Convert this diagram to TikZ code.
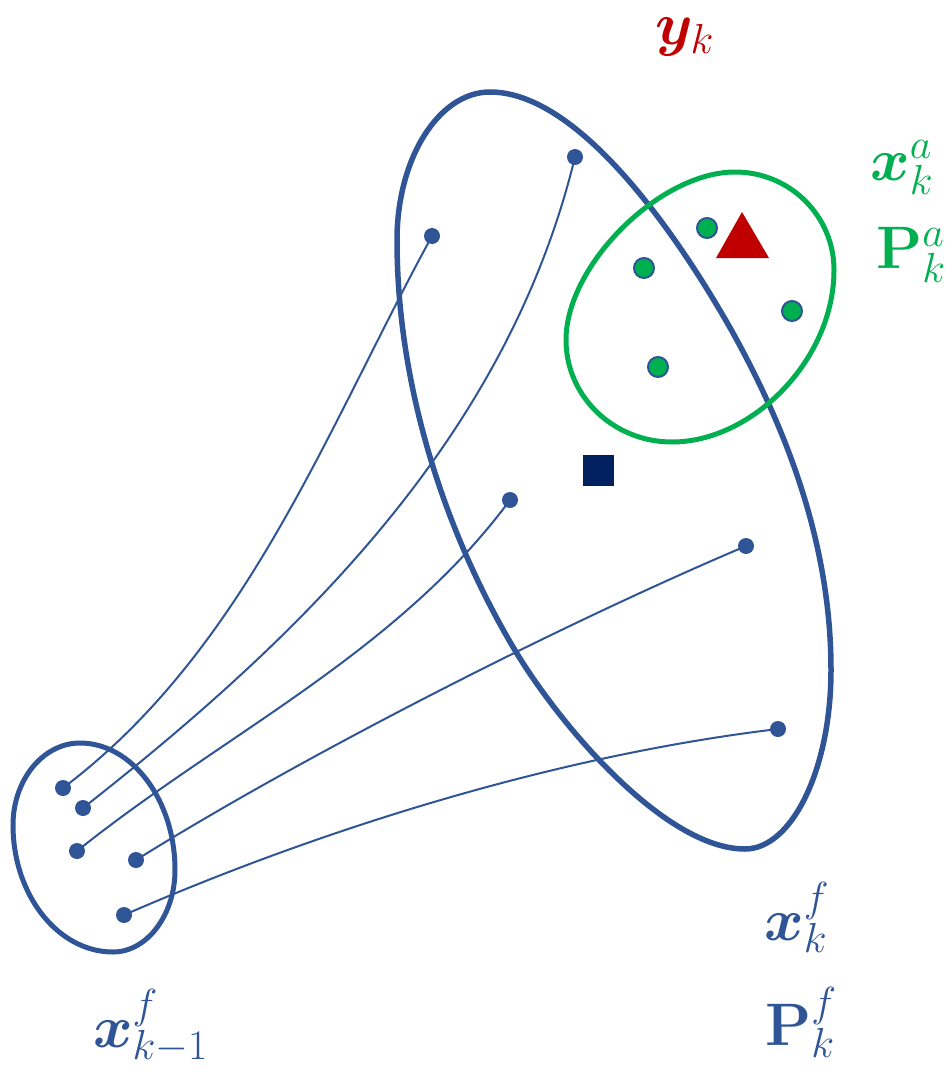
\RequirePackage{fix-cm}
\documentclass[tikz,border=0pt]{standalone}
\usepackage{amsmath}
\usepackage{bm}
\definecolor{dblue}{HTML}{2F5597}
\definecolor{dgreen}{HTML}{00B050}
\definecolor{dred}{HTML}{C00000}
\definecolor{navy}{HTML}{002060}
\tikzset{
  bigshape/.style={draw=dblue, line width=5.5pt},
  greenshape/.style={draw=dgreen, line width=5pt},
  smallshape/.style={draw=dblue, line width=5pt},
  conn/.style={draw=dblue, line width=2pt},
  bdot/.style={circle, fill=dblue, inner sep=0pt, minimum size=16pt},
  gdot/.style={circle, fill=dgreen, draw=dblue, line width=2pt, inner sep=0pt, minimum size=20pt},
  lab/.style={inner sep=0pt, anchor=base west, font=\fontsize{60}{66}\selectfont}
}
\begin{document}
\begin{tikzpicture}[x=1pt,y=-1pt]
\useasboundingbox (0,0) rectangle (951,1073);

% large forecast ellipse
\path[bigshape] (490,92)
  .. controls (580,92) and (679,237) .. (733,333)
  .. controls (791,438) and (831,550) .. (831,670)
  .. controls (831,769) and (792,849) .. (745,849)
  .. controls (665,849) and (559,725) .. (513,647)
  .. controls (447,535) and (397,390) .. (397,240)
  .. controls (397,158) and (439,92) .. (490,92) -- cycle;

% small ellipse
\path[smallshape] (80,743)
  .. controls (132,743) and (175,800) .. (175,870)
  .. controls (175,915) and (147,952) .. (113,952)
  .. controls (58,952) and (13,895) .. (13,825)
  .. controls (13,780) and (43,743) .. (80,743) -- cycle;

% green analysis ellipse
\path[greenshape] (735,172)
  .. controls (790,172) and (834,216) .. (834,270)
  .. controls (834,360) and (752,442) .. (672,442)
  .. controls (613,442) and (566,396) .. (566,340)
  .. controls (566,265) and (660,172) .. (735,172) -- cycle;

% dots
\node[bdot] (l1) at (63,788) {};
\node[bdot] (l2) at (83,808) {};
\node[bdot] (l3) at (77,851) {};
\node[bdot] (l4) at (136,860) {};
\node[bdot] (l5) at (124,915) {};
\node[bdot] (r1) at (432,236) {};
\node[bdot] (r2) at (575,157) {};
\node[bdot] (r3) at (510,500) {};
\node[bdot] (r4) at (746,546) {};
\node[bdot] (r5) at (778,729) {};

% connectors
\draw[conn] (l1.center) .. controls (246,650) and (326,430) .. (r1.center);
\draw[conn] (l2.center) .. controls (302,636) and (507,437) .. (r2.center);
\draw[conn] (l3.center) .. controls (223,734) and (397,653) .. (r3.center);
\draw[conn] (l4.center) .. controls (306,754) and (562,624) .. (r4.center);
\draw[conn] (l5.center) .. controls (326,827) and (560,755) .. (r5.center);

% analysis members
\node[gdot] (g1) at (707,228) {};
\node[gdot] (g2) at (644,268) {};
\node[gdot] (g3) at (792,311) {};
\node[gdot] (g4) at (658,367) {};

% observation triangle
\fill[dred] (742,212) -- (716,258) -- (769,258) -- cycle;

% mean square
\node[fill=navy, inner sep=0pt, minimum size=31pt] (mean) at (598,470) {};

% labels
\node[lab, text=dred] (yk) at (655,45) {$\bm{y}_k$};
\node[lab, text=dgreen] (xa) at (870,180) {$\bm{x}_k^a$};
\node[lab, text=dgreen] (Pa) at (876,268) {$\mathbf{P}_k^a$};
\node[lab, text=dblue] (xf) at (764,940) {$\bm{x}_k^f$};
\node[lab, text=dblue] (Pf) at (765,1045) {$\mathbf{P}_k^f$};
\node[lab, text=dblue] (xfm) at (93,1047) {$\bm{x}_{k-1}^f$};
\end{tikzpicture}
\end{document}
